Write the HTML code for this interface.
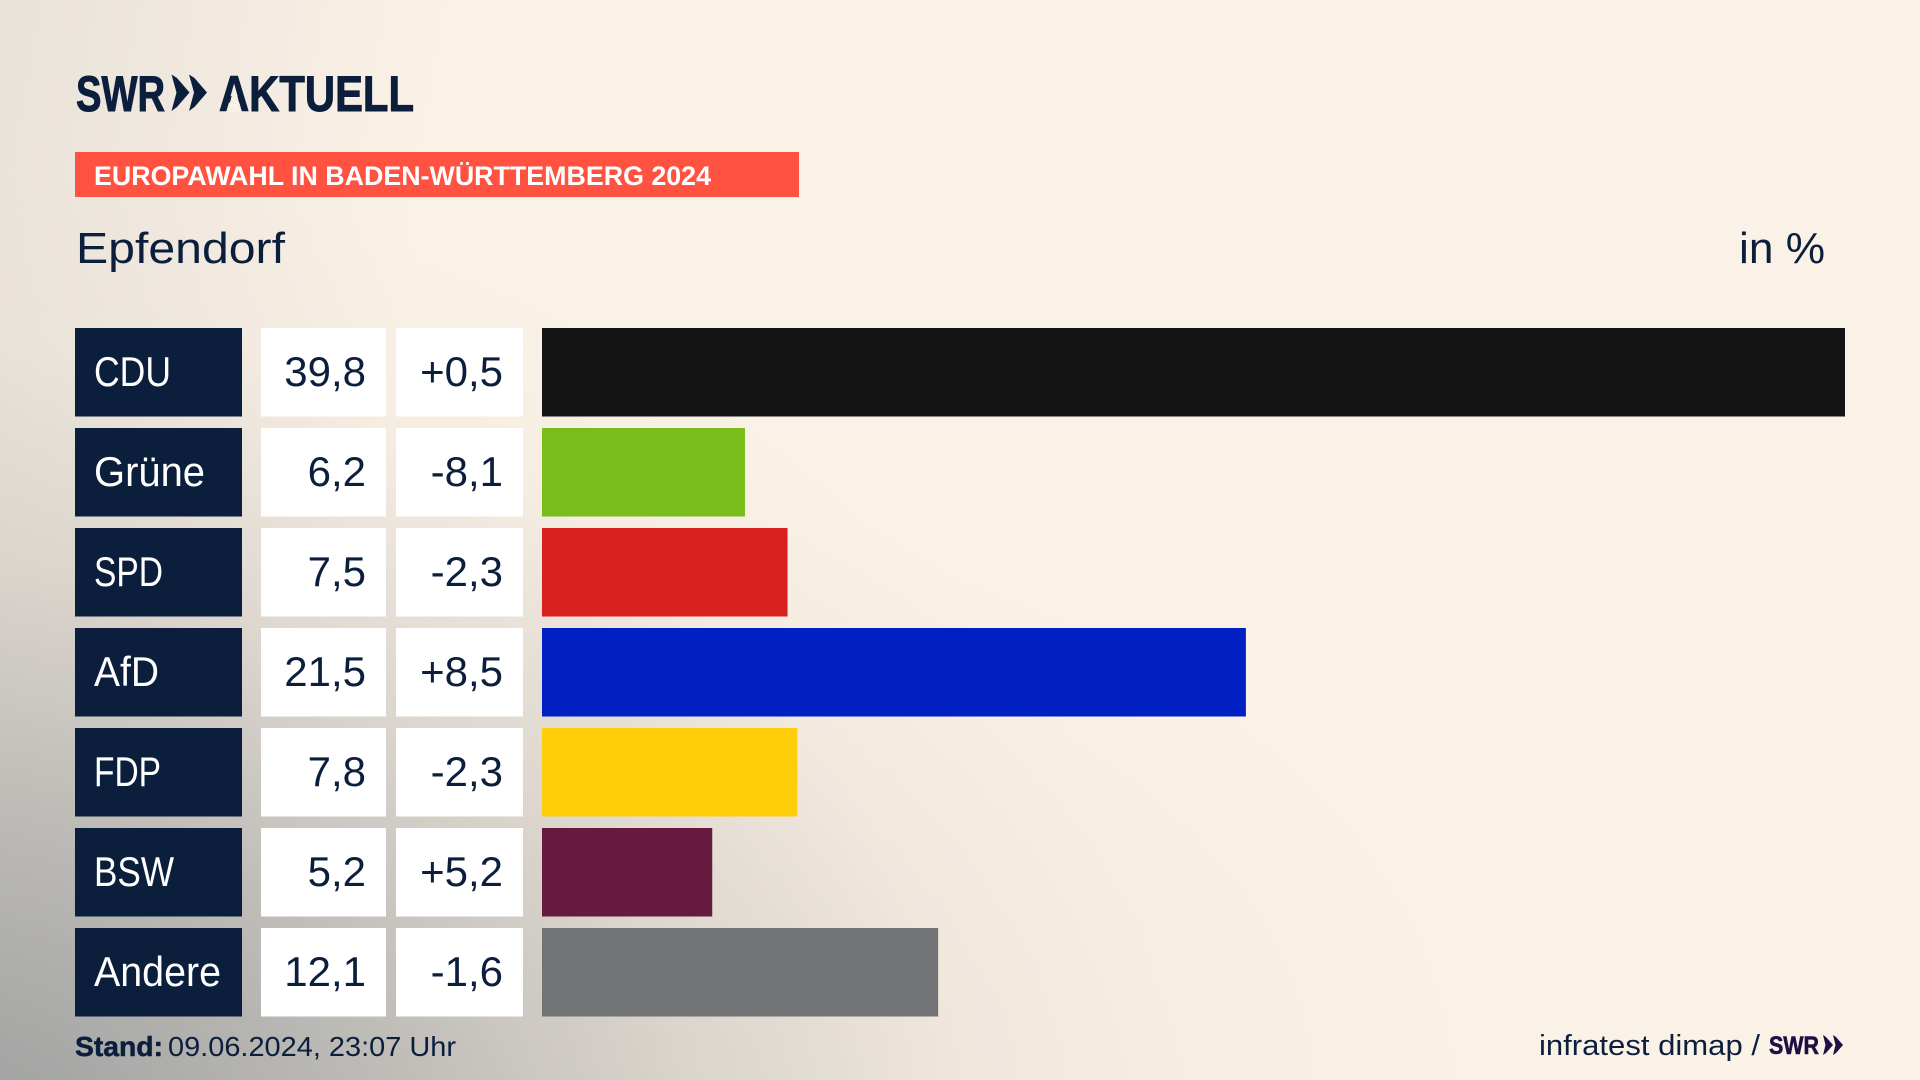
<!DOCTYPE html>
<html lang="de">
<head>
<meta charset="utf-8">
<title>Europawahl in Baden-Württemberg 2024 – Epfendorf</title>
<style>
html,body{margin:0;padding:0;width:1920px;height:1080px;overflow:hidden;background:#fbf2e7}
#bg{position:absolute;left:0;top:0;width:1920px;height:1080px;
background:
radial-gradient(ellipse 1250px 1000px at -60px 1160px,rgba(150,153,153,.95) 0%,rgba(170,170,168,.8) 30%,rgba(200,196,190,.5) 60%,rgba(225,218,208,.2) 82%,rgba(251,242,231,0) 100%),
radial-gradient(ellipse 1000px 620px at 500px 1100px,rgba(205,198,192,.4) 0%,rgba(225,216,208,.22) 60%,rgba(251,242,231,0) 100%),
linear-gradient(100deg,rgba(215,210,203,.5) 0%,rgba(251,242,231,0) 22%),
#fbf2e7}
svg{position:absolute;left:0;top:0;font-family:"Liberation Sans",Arial,sans-serif}
</style>
</head>
<body>
<div id="bg"></div>
<svg id="chart" width="1920" height="1080" viewBox="0 0 1920 1080">
  <g fill="#0b1f3d" font-weight="700" font-size="50">
    <text x="76" y="111" textLength="89" lengthAdjust="spacingAndGlyphs" stroke="#0b1f3d" stroke-width="1">SWR</text>
    <polygon points="171.5,74.5 177,78 189.5,92.5 177,107 171.5,111 176.5,92.5"/>
    <polygon points="189,74.5 194.5,78 207,92.5 194.5,107 189,111 194,92.5"/>
    <text x="219" y="111" textLength="195" lengthAdjust="spacingAndGlyphs" stroke="#0b1f3d" stroke-width="1">AKTUELL</text>
    <polygon points="234.5,85 227.5,112 241.5,112" fill="#f9f1e6"/>
  </g>
  <rect x="75" y="152" width="724" height="45" fill="#ff5240"/>
  <text x="94" y="185" font-size="27" font-weight="700" fill="#fff" textLength="617" lengthAdjust="spacingAndGlyphs">EUROPAWAHL IN BADEN-WÜRTTEMBERG 2024</text>
  <text x="76" y="263" font-size="44" fill="#0b1f3d" textLength="209" lengthAdjust="spacingAndGlyphs">Epfendorf</text>
  <text x="1739" y="263" font-size="44" fill="#0b1f3d" textLength="86" lengthAdjust="spacingAndGlyphs">in %</text>
  <g id="rows"></g>
  <text x="75" y="1056" font-size="28" font-weight="700" fill="#0b1f3d" stroke="#0b1f3d" stroke-width=".5" textLength="88" lengthAdjust="spacingAndGlyphs">Stand:</text>
  <text x="168" y="1056" font-size="28" fill="#0b1f3d" textLength="288" lengthAdjust="spacingAndGlyphs">09.06.2024, 23:07 Uhr</text>
  <text x="1539" y="1055" font-size="29" fill="#0b1f3d" textLength="221" lengthAdjust="spacingAndGlyphs">infratest dimap /</text>
  <g fill="#1e0f45">
    <text x="1769" y="1054" font-size="25" font-weight="700" stroke="#1e0f45" stroke-width=".6" textLength="50" lengthAdjust="spacingAndGlyphs">SWR</text>
    <polygon points="1823,1035 1826,1037 1833,1045 1826,1053 1823,1055 1825.5,1045"/>
    <polygon points="1833,1035 1836,1037 1843,1045 1836,1053 1833,1055 1835.5,1045"/>
  </g>
</svg>
<script>
const parties = ["CDU", "Grüne", "SPD", "AfD", "FDP", "BSW", "Andere"];
const shares = [39.8, 6.2, 7.5, 21.5, 7.8, 5.2, 12.1];
const changes = [0.5, -8.1, -2.3, 8.5, -2.3, 5.2, -1.6];

const partyColors = {CDU:"#141414", "Grüne":"#7abd1a", SPD:"#d8201e", AfD:"#0020c4", FDP:"#ffcd0a", BSW:"#661a3e", Andere:"#717375"};
const labelWidthByParty = {CDU:77, "Grüne":111, SPD:69, AfD:65, FDP:67, BSW:80, Andere:127};

const NS = "http://www.w3.org/2000/svg";
const barLeft = 542, barRight = 1845, domainMax = 39.8;
const rowTop = 328, rowStep = 100, rowHeight = 88.5;
function xScale(v){ return barLeft + (v / domainMax) * (barRight - barLeft); }
function yScale(i){ return rowTop + i * rowStep; }
function fmtShare(v){ return v.toFixed(1).replace(".", ","); }
function fmtChange(v){ return (v > 0 ? "+" : "") + fmtShare(v); }
function make(tag, attrs, text){
  const el = document.createElementNS(NS, tag);
  for (const k in attrs) el.setAttribute(k, attrs[k]);
  if (text !== undefined) el.textContent = text;
  return el;
}
const root = document.getElementById("rows");
parties.forEach(function(p, i){
  const y = yScale(i);
  const baseline = y + 58;
  const g = make("g", {});
  
  

  const labelBox = make("rect", {x:75, y:y, width:167, height:rowHeight, fill:"#0b1f3d"});
  
  
  g.appendChild(labelBox);

  const label = make("text", {x:94, y:baseline, "font-size":42, fill:"#fff", textLength:labelWidthByParty[p], lengthAdjust:"spacingAndGlyphs"}, p);
  
  
  g.appendChild(label);

  const valueBox = make("rect", {x:261, y:y, width:125, height:rowHeight, fill:"#fff"});
  
  
  g.appendChild(valueBox);

  const value = make("text", {x:366, y:baseline, "font-size":42, fill:"#0b1f3d", "text-anchor":"end"}, fmtShare(shares[i]));
  
  
  g.appendChild(value);

  const changeBox = make("rect", {x:396, y:y, width:127, height:rowHeight, fill:"#fff"});
  
  
  g.appendChild(changeBox);

  const change = make("text", {x:503, y:baseline, "font-size":42, fill:"#0b1f3d", "text-anchor":"end"}, fmtChange(changes[i]));
  
  
  g.appendChild(change);

  const bar = make("rect", {x:xScale(0), y:y, width:xScale(shares[i]) - xScale(0), height:rowHeight, fill:partyColors[p]});
  
  
  g.appendChild(bar);

  root.appendChild(g);
});
</script>
</body>
</html>
